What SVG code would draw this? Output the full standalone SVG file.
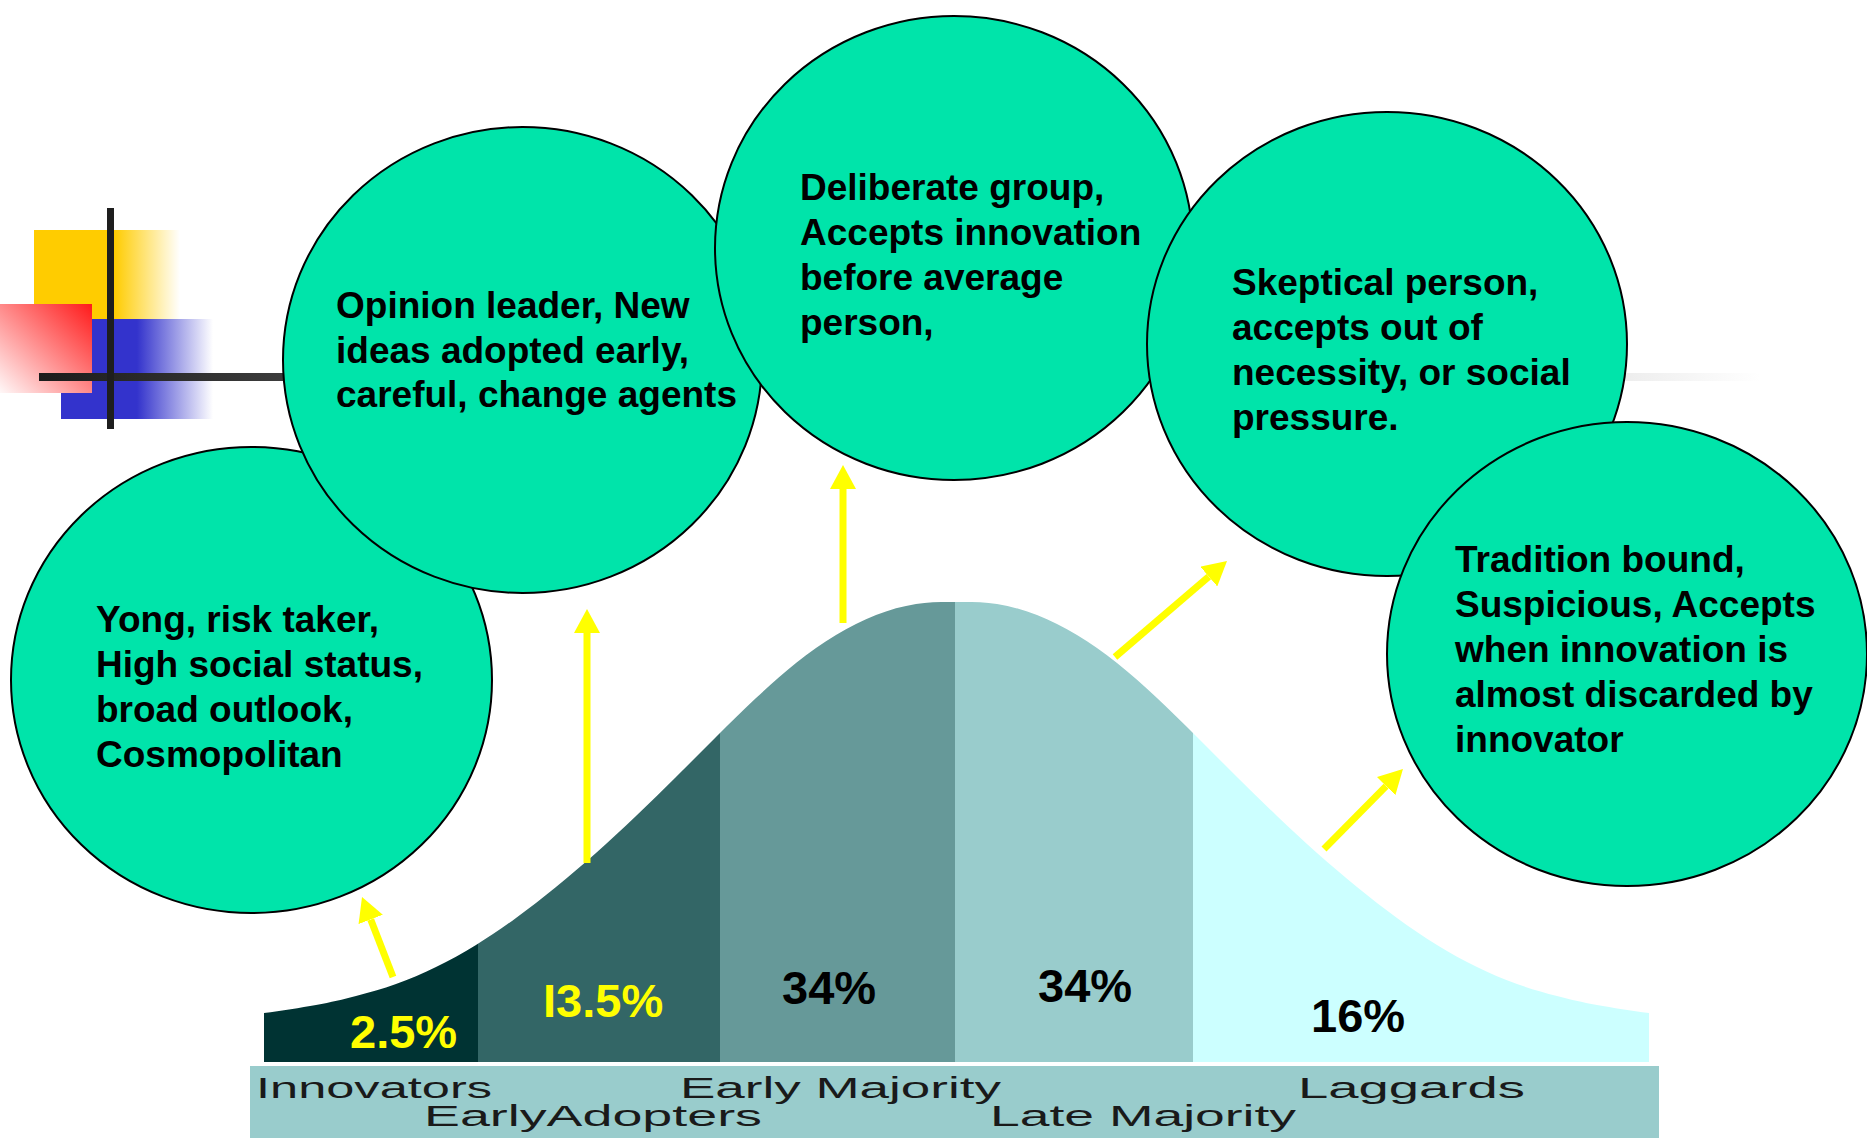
<svg xmlns="http://www.w3.org/2000/svg" width="1867" height="1138" viewBox="0 0 1867 1138">
<style>
.bubble{fill:#00E4AA;stroke:#000;stroke-width:2}
.btxt{font-family:"Liberation Sans",Arial,sans-serif;font-weight:bold;font-size:37px;fill:#000}
.pct{font-family:"Liberation Sans",Arial,sans-serif;font-weight:bold;font-size:47px}
.lbl{font-family:"Liberation Sans",Arial,sans-serif;font-size:30px;fill:#1a1a1a}
.arrow{stroke:#FFFF00;stroke-width:7;fill:none;marker-end:url(#head)}
</style>
<defs>
<marker id="head" markerUnits="userSpaceOnUse" viewBox="0 0 24 26" refX="0" refY="13" markerWidth="24" markerHeight="26" orient="auto">
<path d="M0,0 L24,13 L0,26 z" fill="#FFFF00"/>
</marker>
<linearGradient id="gYellow" x1="0" y1="0" x2="1" y2="0">
<stop offset="0" stop-color="#FFCC00"/>
<stop offset="0.55" stop-color="#FFCC00"/>
<stop offset="1" stop-color="#FFCC00" stop-opacity="0"/>
</linearGradient>
<linearGradient id="gBlue" x1="0" y1="0" x2="1" y2="0">
<stop offset="0" stop-color="#3333CC"/>
<stop offset="0.5" stop-color="#3333CC"/>
<stop offset="1" stop-color="#3333CC" stop-opacity="0"/>
</linearGradient>
<linearGradient id="gRed" x1="1" y1="0" x2="0" y2="1">
<stop offset="0" stop-color="#FF1A1A"/>
<stop offset="1" stop-color="#FFF8F8"/>
</linearGradient>
<linearGradient id="gBar" gradientUnits="userSpaceOnUse" x1="39" y1="0" x2="1760" y2="0">
<stop offset="0" stop-color="#1c1c1c"/>
<stop offset="1" stop-color="#ffffff"/>
</linearGradient>
<path id="halfBell" d="M264,1062 L264,1013 C281.3,1010.8 300.7,1007.8 316,1005 C331.3,1002.2 342.7,999.5 356,996 C369.3,992.5 382.7,988.8 396,984 C409.3,979.2 422.7,973.5 436,967 C449.3,960.5 462.7,953.2 476,945 C489.3,936.8 502.7,927.7 516,918 C529.3,908.3 542.7,897.8 556,887 C569.3,876.2 582.7,864.8 596,853 C609.3,841.2 622.7,828.7 636,816 C649.3,803.3 662.7,790.2 676,777 C689.3,763.8 702.7,750.2 716,737 C729.3,723.8 742.7,710.3 756,698 C769.3,685.7 782.7,673.5 796,663 C809.3,652.5 822.7,643 836,635 C849.3,627 862.7,620.2 876,615 C889.3,609.8 902.7,606.2 916,604 C929.3,601.8 942.7,602 956,602 L958,602 L958,1062 Z"/>
<clipPath id="bell">
<use href="#halfBell"/>
<use href="#halfBell" transform="translate(1913,0) scale(-1,1)"/>
</clipPath>
</defs>
<rect width="1867" height="1138" fill="#fff"/>

<g id="decoration">
<rect x="34" y="230" width="146" height="89" fill="url(#gYellow)"/>
<rect x="61" y="319" width="152" height="100" fill="url(#gBlue)"/>
<rect x="0" y="304" width="92" height="89" fill="url(#gRed)"/>
<rect x="39" y="373" width="1721" height="8" fill="url(#gBar)"/>
<rect x="107" y="208" width="7" height="221" fill="#1e1e1e"/>
</g>

<g id="bell-curve">
<g clip-path="url(#bell)">
<rect x="264" y="590" width="214" height="472" fill="#003333"/>
<rect x="478" y="590" width="242" height="472" fill="#336666"/>
<rect x="720" y="590" width="235" height="472" fill="#669999"/>
<rect x="955" y="590" width="238" height="472" fill="#99CCCC"/>
<rect x="1193" y="590" width="456" height="472" fill="#CCFFFF"/>
</g>
<text class="pct" x="350" y="1048" fill="#FFFF00">2.5%</text>
<text class="pct" x="543" y="1017" fill="#FFFF00">I3.5%</text>
<text class="pct" x="782" y="1004" fill="#000">34%</text>
<text class="pct" x="1038" y="1002" fill="#000">34%</text>
<text class="pct" x="1311" y="1032" fill="#000">16%</text>
</g>

<g id="category-bar">
<rect x="250" y="1066" width="1409" height="72" fill="#99CCCC"/>
<text class="lbl" x="256" y="1098" textLength="236" lengthAdjust="spacingAndGlyphs">Innovators</text>
<text class="lbl" x="424" y="1126" textLength="338" lengthAdjust="spacingAndGlyphs">EarlyAdopters</text>
<text class="lbl" x="680" y="1098" textLength="321" lengthAdjust="spacingAndGlyphs">Early Majority</text>
<text class="lbl" x="990" y="1126" textLength="306" lengthAdjust="spacingAndGlyphs">Late Majority</text>
<text class="lbl" x="1298" y="1098" textLength="227" lengthAdjust="spacingAndGlyphs">Laggards</text>
</g>

<g id="innovators">
<ellipse class="bubble" cx="251.5" cy="680" rx="240.5" ry="233"/>
<text class="btxt"><tspan x="96" y="632">Yong, risk taker,</tspan><tspan x="96" y="677">High social status,</tspan><tspan x="96" y="722">broad outlook,</tspan><tspan x="96" y="767">Cosmopolitan</tspan></text>
</g>

<g id="early-adopters">
<ellipse class="bubble" cx="522.5" cy="360" rx="239.5" ry="233"/>
<text class="btxt"><tspan x="336" y="318">Opinion leader, New</tspan><tspan x="336" y="363">ideas adopted early,</tspan><tspan x="336" y="407">careful, change agents</tspan></text>
</g>

<g id="early-majority">
<ellipse class="bubble" cx="954" cy="248" rx="239" ry="232"/>
<text class="btxt"><tspan x="800" y="200">Deliberate group,</tspan><tspan x="800" y="245">Accepts innovation</tspan><tspan x="800" y="290">before average</tspan><tspan x="800" y="335">person,</tspan></text>
</g>

<g id="late-majority">
<ellipse class="bubble" cx="1387" cy="344" rx="240" ry="232"/>
<text class="btxt"><tspan x="1232" y="295">Skeptical person,</tspan><tspan x="1232" y="340">accepts out of</tspan><tspan x="1232" y="385">necessity, or social</tspan><tspan x="1232" y="430">pressure.</tspan></text>
</g>

<g id="laggards">
<ellipse class="bubble" cx="1627" cy="654" rx="240" ry="232"/>
<text class="btxt"><tspan x="1455" y="572">Tradition bound,</tspan><tspan x="1455" y="617">Suspicious, Accepts</tspan><tspan x="1455" y="662">when innovation is</tspan><tspan x="1455" y="707">almost discarded by</tspan><tspan x="1455" y="752">innovator</tspan></text>
</g>

<g id="connectors">
<line class="arrow" x1="393" y1="977" x2="370.7" y2="919.4"/>
<line class="arrow" x1="587" y1="863" x2="587" y2="633"/>
<line class="arrow" x1="843" y1="623" x2="843" y2="489"/>
<line class="arrow" x1="1115" y1="657" x2="1208.8" y2="576.6"/>
<line class="arrow" x1="1324" y1="849" x2="1386.1" y2="786.1"/>
</g>
</svg>
